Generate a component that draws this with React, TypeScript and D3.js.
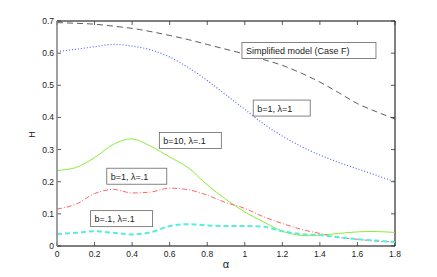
import React, { useEffect, useRef } from 'react'
import * as d3 from 'd3'

const alphas = [0, 0.1, 0.2, 0.3, 0.4, 0.5, 0.6, 0.7, 0.8, 0.9, 1.0, 1.1, 1.2, 1.3, 1.4, 1.5, 1.6, 1.7, 1.8]

const simplified = [0.695, 0.693, 0.69, 0.684, 0.677, 0.667, 0.655, 0.642, 0.627, 0.612, 0.597, 0.58, 0.562, 0.538, 0.51, 0.477, 0.443, 0.418, 0.395]
const b1l1 = [0.605, 0.612, 0.62, 0.627, 0.622, 0.61, 0.588, 0.555, 0.515, 0.47, 0.425, 0.38, 0.342, 0.31, 0.283, 0.26, 0.24, 0.22, 0.2]
const b10 = [0.235, 0.244, 0.275, 0.316, 0.333, 0.31, 0.277, 0.243, 0.19, 0.145, 0.106, 0.075, 0.046, 0.033, 0.034, 0.039, 0.044, 0.045, 0.042]
const b1 = [0.115, 0.13, 0.163, 0.176, 0.165, 0.168, 0.18, 0.175, 0.158, 0.135, 0.117, 0.091, 0.07, 0.052, 0.039, 0.027, 0.021, 0.015, 0.013]
const b01 = [0.037, 0.041, 0.046, 0.041, 0.036, 0.043, 0.062, 0.068, 0.064, 0.062, 0.062, 0.06, 0.046, 0.037, 0.034, 0.027, 0.021, 0.017, 0.012]

const xTicks = [0, 0.2, 0.4, 0.6, 0.8, 1, 1.2, 1.4, 1.6, 1.8]
const yTicks = [0, 0.1, 0.2, 0.3, 0.4, 0.5, 0.6, 0.7]

const series = [
  { name: 'simplified', values: simplified, color: '#333333', width: 0.8, dash: '6,4', smooth: true },
  { name: 'b1l1', values: b1l1, color: '#5566ff', width: 1.2, dash: '1,2', smooth: true },
  { name: 'b10', values: b10, color: '#88ee33', width: 1, dash: null, smooth: false },
  { name: 'b1', values: b1, color: '#ff6666', width: 1, dash: '5,2,1,2', smooth: true },
  { name: 'b01', values: b01, color: '#55eedd', width: 2, dash: '5,3', smooth: true },
]

const notes = [
  { text: 'Simplified model (Case F)', x: 0.985, y: 0.633, w: 134 },
  { text: 'b=1, \u03bb=1', x: 1.045, y: 0.454, w: 57 },
  { text: 'b=10, \u03bb=.1', x: 0.545, y: 0.353, w: 62 },
  { text: 'b=1, \u03bb=.1', x: 0.265, y: 0.242, w: 60 },
  { text: 'b=.1, \u03bb=.1', x: 0.179, y: 0.11, w: 62 },
]

const App = () => {
  const ref = useRef<SVGSVGElement>(null)

  useEffect(() => {
    const width = 437
    const height = 277
    const margin = { top: 21, right: 42, bottom: 31, left: 57 }

    const x = d3.scaleLinear()
      .domain([0, 1.8])
      .range([margin.left, width - margin.right])

    const y = d3.scaleLinear()
      .domain([0, 0.7])
      .range([height - margin.bottom, margin.top])

    const svg = d3.select(ref.current)
    svg.selectAll('*').remove()
    svg.attr('viewBox', [0, 0, width, height])
      .attr('font-family', 'Liberation Sans, Arial, sans-serif')

    const x0 = x(0), x1 = x(1.8), y0 = y(0), y1 = y(0.7)

    // frame
    svg.append('line').attr('x1', x0).attr('x2', x1).attr('y1', y1).attr('y2', y1)
      .attr('stroke', '#000').attr('stroke-width', 1)
    svg.append('line').attr('x1', x0).attr('x2', x1).attr('y1', y0).attr('y2', y0)
      .attr('stroke', '#000').attr('stroke-width', 1)
    svg.append('line').attr('x1', x1).attr('x2', x1).attr('y1', y1).attr('y2', y0)
      .attr('stroke', '#000').attr('stroke-width', 1)

    // inward ticks
    const tick = svg.append('g').attr('stroke', '#333').attr('stroke-width', 0.8)
    xTicks.forEach(t => {
      tick.append('line').attr('x1', x(t)).attr('x2', x(t)).attr('y1', y0).attr('y2', y0 - 4)
      tick.append('line').attr('x1', x(t)).attr('x2', x(t)).attr('y1', y1).attr('y2', y1 + 4)
    })
    yTicks.forEach(t => {
      tick.append('line').attr('x1', x0).attr('x2', x0 + 4).attr('y1', y(t)).attr('y2', y(t))
      tick.append('line').attr('x1', x1).attr('x2', x1 - 4).attr('y1', y(t)).attr('y2', y(t))
    })

    // tick labels
    svg.append('g').selectAll('text').data(xTicks).join('text')
      .attr('x', d => x(d)).attr('y', y0 + 11)
      .attr('text-anchor', 'middle').attr('font-size', 8.5).attr('fill', '#222')
      .text(d => d3.format('~g')(d))
    svg.append('g').selectAll('text').data(yTicks).join('text')
      .attr('x', x0 - 3).attr('y', d => y(d) + 3)
      .attr('text-anchor', 'end').attr('font-size', 8.5).attr('fill', '#222')
      .text(d => d3.format('~g')(d))

    // axis titles
    svg.append('text').attr('transform', `translate(35,${(y0 + y1) / 2 + 1}) rotate(-90)`)
      .attr('text-anchor', 'middle').attr('font-size', 9).attr('fill', '#222').text('H')
    svg.append('text').attr('x', (x0 + x1) / 2).attr('y', 268)
      .attr('text-anchor', 'middle').attr('font-size', 11).attr('fill', '#222').text('\u03b1')

    // curves
    series.forEach(s => {
      const line = d3.line<number>()
        .x((d, i) => x(alphas[i]))
        .y(d => y(d))
        .curve(s.smooth ? d3.curveMonotoneX : d3.curveCatmullRom.alpha(0.2))
      svg.append('path')
        .datum(s.values)
        .attr('fill', 'none')
        .attr('stroke', s.color)
        .attr('stroke-width', s.width)
        .attr('stroke-dasharray', s.dash)
        .attr('d', line)
    })

    // left axis drawn gray over curves
    svg.append('line').attr('x1', x0).attr('x2', x0).attr('y1', y1).attr('y2', y0)
      .attr('stroke', '#888').attr('stroke-width', 1.6)

    // annotation boxes
    const note = svg.append('g').selectAll('g').data(notes).join('g')
      .attr('transform', d => `translate(${x(d.x)},${y(d.y)})`)
    note.append('rect')
      .attr('width', d => d.w).attr('height', 16)
      .attr('fill', '#fff').attr('stroke', '#666').attr('stroke-width', 0.8)
    note.append('text')
      .attr('x', 4).attr('y', 11.5)
      .attr('font-size', 9).attr('fill', '#222')
      .text(d => d.text)
  }, [])

  return <svg ref={ref} width={437} height={277}
    style={{ position: 'absolute', left: 0, top: 0 }} />
}

export default App
